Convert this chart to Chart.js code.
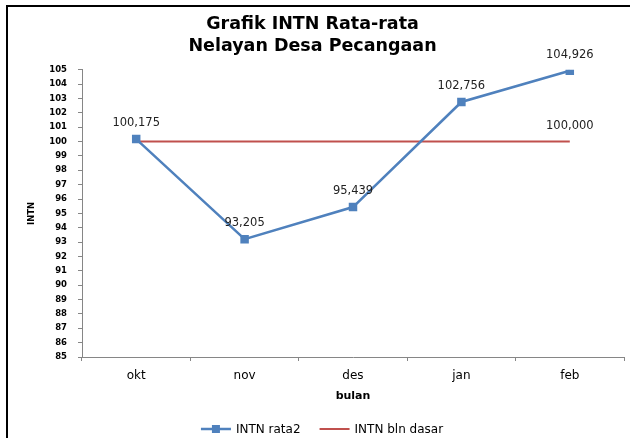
<!DOCTYPE html>
<html>
<head>
<meta charset="utf-8">
<script src="https://cdn.jsdelivr.net/npm/chart.js@4.4.1/dist/chart.umd.min.js"></script>
<style>
  html, body { margin: 0; padding: 0; background: #fff; }
  #wrap { width: 630px; height: 438px; position: relative; }
</style>
</head>
<body>
<div id="wrap"><canvas id="chartIntn"></canvas></div>
<script>
// data
var months = ['okt', 'nov', 'des', 'jan', 'feb']
var intnRata2 = [100.175, 93.205, 95.439, 102.756, 104.926]
var intnBlnDasar = [100, 100, 100, 100, 100]
var rata2LabelAt = [0, 1, 2, 3, 4]
var dasarLabelAt = [4]
var yMin = 85
var yMax = 105
var yStep = 1

var BLUE = '#4f81bd'
var RED = '#c0504d'
var FONT = '"DejaVu Sans", Verdana, sans-serif'

const fmt = function (v) {
  return v.toFixed(3).replace('.', ',')
}

// white page + black frame (clipped on right and bottom like the picture)
const frame = {
  id: 'frame',
  beforeDraw(chart) {
    const ctx = chart.ctx
    ctx.save()
    ctx.fillStyle = '#fff'
    ctx.fillRect(0, 0, chart.width, chart.height)
    ctx.strokeStyle = '#000'
    ctx.lineWidth = 2
    ctx.strokeRect(7, 6, chart.width + 20, chart.height + 20)
    ctx.restore()
  }
}

// numbers above the points
const valueLabels = {
  id: 'valueLabels',
  afterDatasetsDraw(chart) {
    const ctx = chart.ctx
    ctx.save()
    ctx.font = '11.5px ' + FONT
    ctx.fillStyle = '#222'
    ctx.textAlign = 'center'
    ctx.textBaseline = 'middle'
    chart.data.datasets.forEach((ds, di) => {
      const meta = chart.getDatasetMeta(di)
      meta.data.forEach((pt, i) => {
        if (ds.labelAt.indexOf(i) < 0) return
        ctx.fillText(fmt(ds.data[i]), pt.x, pt.y - 16)
      })
    })
    ctx.restore()
  }
}

// legend at the bottom: line (+ square) then name
const bottomLegend = {
  id: 'bottomLegend',
  afterDraw(chart) {
    const ctx = chart.ctx
    const y = 429
    ctx.save()
    ctx.font = '12px ' + FONT
    ctx.textBaseline = 'middle'
    ctx.textAlign = 'left'
    const items = chart.data.datasets
    const widths = items.map(ds => 30 + 5 + ctx.measureText(ds.label).width)
    const total = widths.reduce((a, b) => a + b, 0) + 19 * (items.length - 1)
    let x = 322 - total / 2
    items.forEach((ds, i) => {
      ctx.strokeStyle = ds.borderColor
      ctx.lineWidth = ds.borderWidth
      ctx.beginPath()
      ctx.moveTo(x, y)
      ctx.lineTo(x + 30, y)
      ctx.stroke()
      if (ds.pointRadius > 0) {
        ctx.fillStyle = ds.pointBackgroundColor
        ctx.fillRect(x + 11, y - 4, 8, 8)
      }
      ctx.fillStyle = '#000'
      ctx.fillText(ds.label, x + 35, y + 1)
      x += widths[i] + 19
    })
    ctx.restore()
  }
}

const config = {
  type: 'line',
  data: {
    labels: months,
    datasets: [{
      label: 'INTN rata2',
      data: intnRata2,
      labelAt: rata2LabelAt,
      borderColor: BLUE,
      borderWidth: 2.5,
      pointStyle: 'rect',
      pointRadius: 6,
      pointBorderWidth: 0,
      pointBackgroundColor: BLUE,
      pointBorderColor: BLUE,
      tension: 0
    }, {
      label: 'INTN bln dasar',
      data: intnBlnDasar,
      labelAt: dasarLabelAt,
      borderColor: RED,
      borderWidth: 2,
      pointRadius: 0,
      pointBackgroundColor: RED,
      tension: 0
    }]
  },
  options: {
    responsive: true,
    maintainAspectRatio: false,
    animation: false,
    layout: { padding: { left: 0, right: 5, top: 0, bottom: 31 } },
    plugins: {
      legend: { display: false },
      tooltip: { enabled: false },
      title: {
        display: true,
        text: ['Grafik INTN Rata-rata', 'Nelayan Desa Pecangaan'],
        color: '#000',
        font: { family: FONT, size: 17.5, weight: 'bold', lineHeight: 1.25 },
        padding: { top: 14, bottom: 12 }
      }
    },
    scales: {
      x: {
        offset: true,
        grid: { display: true, drawOnChartArea: false, drawTicks: true, tickLength: 4, color: '#868686', offset: true },
        border: { display: true, color: '#868686', width: 1 },
        ticks: { color: '#000', font: { family: FONT, size: 12 }, padding: 8 },
        title: {
          display: true,
          text: 'bulan',
          color: '#000',
          font: { family: FONT, size: 11, weight: 'bold' },
          padding: { top: 0, bottom: 4 }
        },
        afterFit(scale) { scale.height = 50 }
      },
      y: {
        min: yMin,
        max: yMax,
        grid: { display: true, drawOnChartArea: false, drawTicks: true, tickLength: 4, color: '#868686' },
        border: { display: true, color: '#868686', width: 1 },
        ticks: { stepSize: yStep, color: '#000', font: { family: FONT, size: 8.5, weight: 'bold' }, padding: 11, autoSkip: false },
        title: {
          display: true,
          text: 'INTN',
          color: '#000',
          font: { family: FONT, size: 8.5, weight: 'bold' },
          padding: { top: 27, bottom: 0 }
        },
        afterFit(scale) { scale.width = 82 }
      }
    }
  },
  plugins: [frame, valueLabels, bottomLegend]
}

var myChart = new Chart(document.getElementById('chartIntn'), config)
</script>
</body>
</html>
